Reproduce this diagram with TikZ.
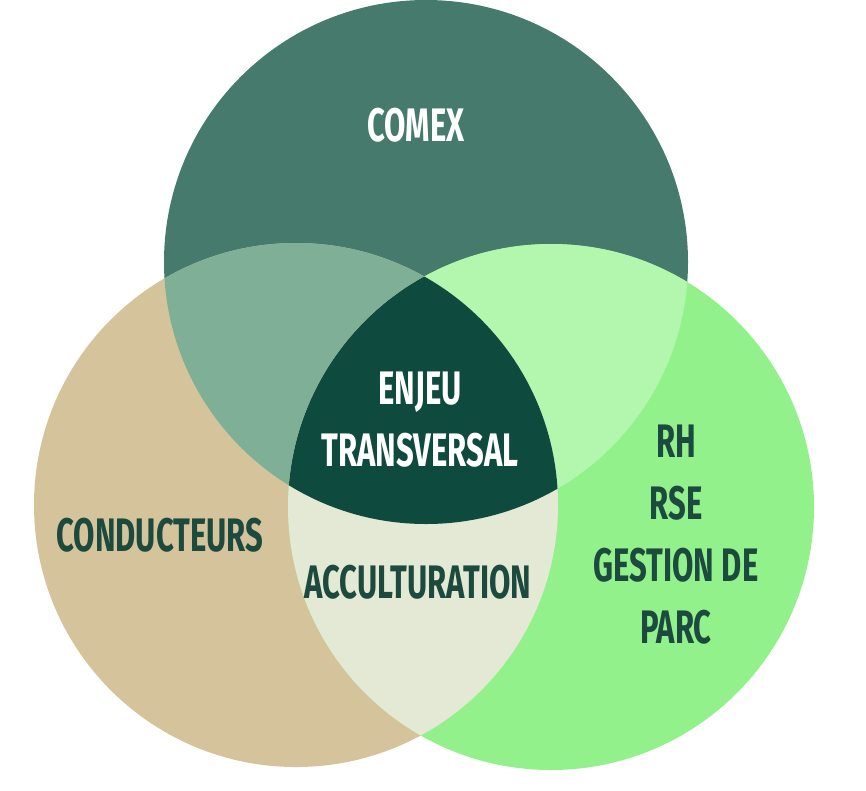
\documentclass[tikz,border=0pt]{standalone}
\usepackage{fontspec}
\setmainfont[FakeStretch=0.66]{Fira Sans}
\begin{document}
\begin{tikzpicture}[x=1pt,y=-1pt,
  lbl/.style={font=\bfseries\fontsize{47}{62}\selectfont, align=center, text=txtd},
  lblw/.style={lbl, text=white}]
\definecolor{ctop}{HTML}{457A6C}
\definecolor{cleft}{HTML}{D5C49B}
\definecolor{cright}{HTML}{93F18C}
\definecolor{ctl}{HTML}{80AF97}
\definecolor{ctr}{HTML}{B3F6AE}
\definecolor{clr}{HTML}{E4E9D5}
\definecolor{cmid}{HTML}{0F4A3E}
\definecolor{txtd}{HTML}{1D4A3F}
\useasboundingbox (0,0) rectangle (866,790);
\def\T{(426,262) circle (262)}
\def\L{(296,505) circle (262)}
\def\R{(551,507) circle (263)}
\fill[ctop] \T;
\fill[cleft] \L;
\fill[cright] \R;
\begin{scope}\clip \T; \fill[ctl] \L; \fill[ctr] \R; \end{scope}
\begin{scope}\clip \L; \fill[clr] \R; \end{scope}
\begin{scope}\clip \T; \clip \L; \fill[cmid] \R; \end{scope}
\node[lblw] (comex) at (416,125) {COMEX};
\node[lblw] (enjeu) at (420,420) {ENJEU\\TRANSVERSAL};
\node[lbl] (cond) at (160,535) {CONDUCTEURS};
\node[lbl] (acc) at (418,582) {ACCULTURATION};
\node[lbl] (rh) at (676,535) {RH\\RSE\\GESTION DE\\PARC};
\end{tikzpicture}
\end{document}
